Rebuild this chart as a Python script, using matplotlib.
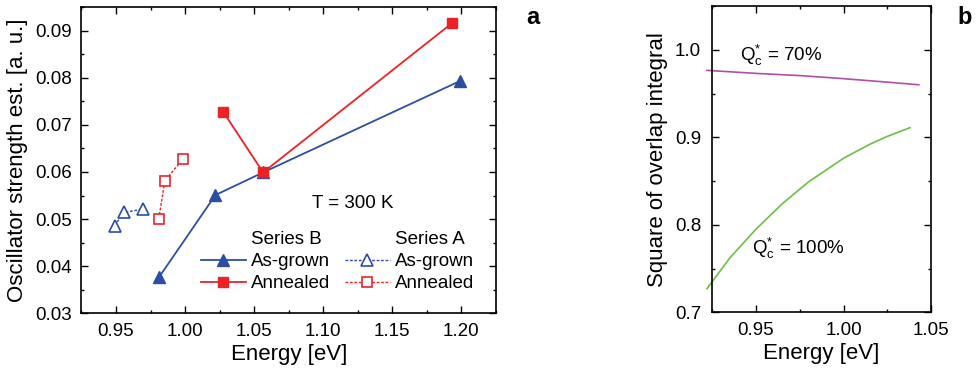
import numpy as np
import matplotlib
matplotlib.use("Agg")
import matplotlib.pyplot as plt
from matplotlib.lines import Line2D
from matplotlib.ticker import MultipleLocator

plt.rcParams['font.family'] = ['Liberation Sans', 'DejaVu Sans']
plt.rcParams['mathtext.fontset'] = 'custom'
plt.rcParams['mathtext.rm'] = 'Liberation Sans'
plt.rcParams['mathtext.it'] = 'Liberation Sans'

# ---- panel a data ----
b_grown_x = [0.981, 1.022, 1.0565, 1.199]
b_grown_y = [0.0376, 0.0551, 0.0599, 0.0793]
b_ann_x = [1.0275, 1.0565, 1.1933]
b_ann_y = [0.0728, 0.0599, 0.0916]
a_grown_x = [0.949, 0.9558, 0.9697]
a_grown_y = [0.0486, 0.0514, 0.0521]
a_ann_x = [0.9809, 0.9854, 0.9986]
a_ann_y = [0.0500, 0.0581, 0.0628]

# ---- panel b data ----
qc70_x = [0.922, 0.95, 0.975, 1.00, 1.025, 1.043]
qc70_y = [0.9765, 0.973, 0.9705, 0.967, 0.963, 0.960]
qc100_x = [0.922, 0.935, 0.95, 0.965, 0.98, 1.00, 1.015, 1.025, 1.038]
qc100_y = [0.727, 0.762, 0.795, 0.824, 0.849, 0.876, 0.892, 0.901, 0.911]

blue = '#2c4ea2'
red = '#ec2227'
purple = '#b04ea8'
green = '#6dbe45'

fig = plt.figure(figsize=(9.79, 3.71), dpi=100)
ax1 = fig.add_axes([0.0832, 0.1555, 0.4234, 0.8256])
ax2 = fig.add_axes([0.7275, 0.1582, 0.2235, 0.8256])

for ax in (ax1, ax2):
    ax.tick_params(which='both', direction='in', top=True, right=True, labelsize=13.5,
                   width=1.0, pad=7)
    ax.tick_params(which='major', length=5)
    ax.tick_params(which='minor', length=2.5)
    for s in ax.spines.values():
        s.set_linewidth(1.2)

# panel a
ax1.plot(b_grown_x, b_grown_y, '-', color=blue, lw=1.3, marker='^', ms=9, mfc=blue, mec=blue)
ax1.plot(b_ann_x, b_ann_y, '-', color=red, lw=1.3, marker='s', ms=7.5, mfc=red, mec=red)
ax1.plot(a_grown_x, a_grown_y, '--', color=blue, lw=1.0, dashes=(2, 1.2), marker='^', ms=8,
         mfc='white', mec=blue, mew=1.2)
ax1.plot(a_ann_x, a_ann_y, '--', color=red, lw=1.0, dashes=(2, 1.2), marker='s', ms=7,
         mfc='white', mec=red, mew=1.2)

ax1.set_xlim(0.925, 1.225)
ax1.set_ylim(0.03, 0.095)
ax1.xaxis.set_major_locator(MultipleLocator(0.05))
ax1.xaxis.set_minor_locator(MultipleLocator(0.025))
ax1.yaxis.set_major_locator(MultipleLocator(0.01))
ax1.yaxis.set_minor_locator(MultipleLocator(0.005))
ax1.xaxis.set_major_formatter(plt.FormatStrFormatter('%.2f'))
ax1.yaxis.set_major_formatter(plt.FormatStrFormatter('%.2f'))
ax1.set_xlabel('Energy [eV]', fontsize=16, labelpad=3)
ax1.set_ylabel('Oscillator strength est. [a. u.]', fontsize=16, labelpad=5)
ax1.text(1.121, 0.0534, 'T = 300 K', fontsize=13.5, ha='center', va='center')

blank = Line2D([], [], linestyle='none')
h_bg = Line2D([], [], color=blue, lw=1.3, marker='^', ms=9)
h_ba = Line2D([], [], color=red, lw=1.3, marker='s', ms=7.5)
h_ag = Line2D([], [], color=blue, lw=1.0, ls='--', dashes=(2, 1.2), marker='^', ms=8, mfc='white', mew=1.2)
h_aa = Line2D([], [], color=red, lw=1.0, ls='--', dashes=(2, 1.2), marker='s', ms=7, mfc='white', mew=1.2)
ax1.legend([blank, h_bg, h_ba, blank, h_ag, h_aa],
           ['Series B', 'As-grown', 'Annealed', 'Series A', 'As-grown', 'Annealed'],
           ncol=2, frameon=False, fontsize=13.5, handlelength=2.4, handletextpad=0.3,
           columnspacing=0.75, labelspacing=0.28, borderpad=0, borderaxespad=0,
           loc='lower right', bbox_to_anchor=(0.948, 0.068))

fig.text(533 / 979, 1 - 17 / 371, 'a', fontsize=17, fontweight='bold', ha='center', va='center')

# panel b
ax2.plot(qc70_x, qc70_y, color=purple, lw=1.2, clip_on=False)
ax2.plot(qc100_x, qc100_y, color=green, lw=1.2, clip_on=False)
ax2.set_xlim(0.925, 1.05)
ax2.set_ylim(0.7, 1.05)
ax2.xaxis.set_major_locator(MultipleLocator(0.05))
ax2.xaxis.set_minor_locator(MultipleLocator(0.025))
ax2.yaxis.set_major_locator(MultipleLocator(0.1))
ax2.yaxis.set_minor_locator(MultipleLocator(0.05))
ax2.xaxis.set_major_formatter(plt.FormatStrFormatter('%.2f'))
ax2.yaxis.set_major_formatter(plt.FormatStrFormatter('%.1f'))
ax2.tick_params(axis='y', pad=8)
ax2.set_xlabel('Energy [eV]', fontsize=16, labelpad=3)
ax2.set_ylabel('Square of overlap integral', fontsize=16, labelpad=5)
ax2.text(0.941, 0.994, r'$\mathrm{Q}_\mathrm{c}^{*}$ = 70%', fontsize=13.5, ha='left', va='center')
ax2.text(0.948, 0.7735, r'$\mathrm{Q}_\mathrm{c}^{*}$ = 100%', fontsize=13.5, ha='left', va='center')

fig.text(965 / 979, 1 - 17 / 371, 'b', fontsize=17, fontweight='bold', ha='center', va='center')

fig.savefig('out.png', dpi=100)
